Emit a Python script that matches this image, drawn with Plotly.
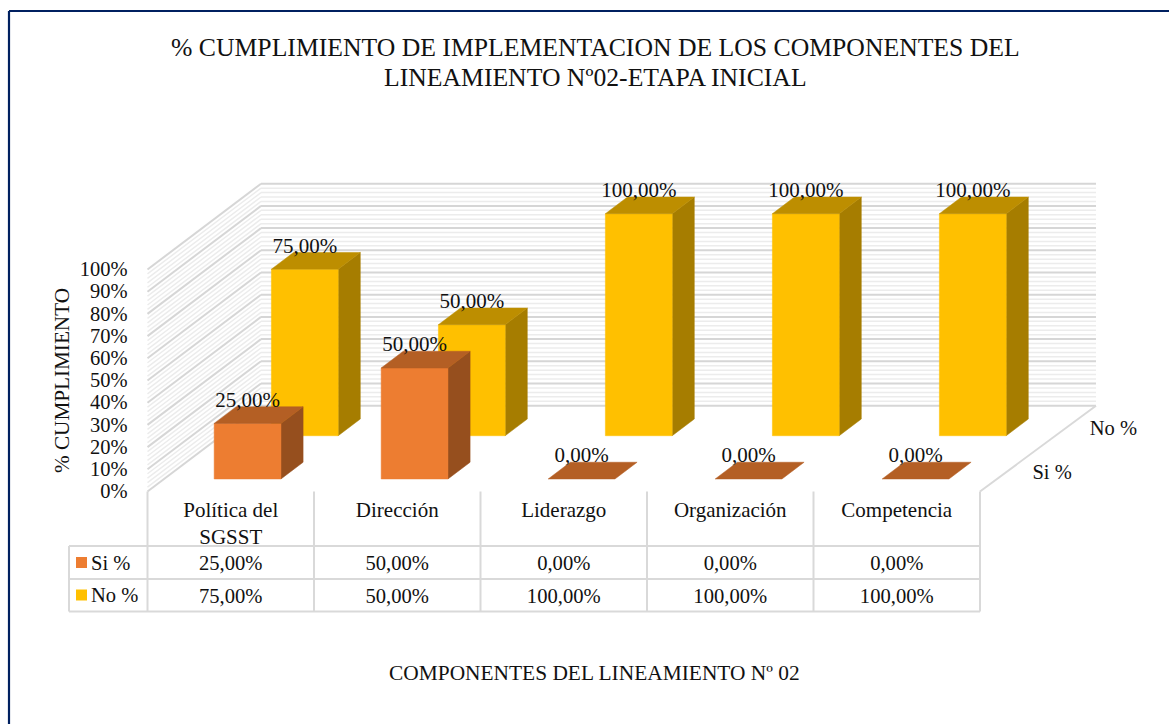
import plotly.graph_objects as go

# ---------- data ----------
categories = ["Política del<br>SGSST", "Dirección", "Liderazgo", "Organización", "Competencia"]
si_values = [25, 50, 0, 0, 0]
no_values = [75, 50, 100, 100, 100]
series_names = ["Si %", "No %"]
y_ticks = [0, 10, 20, 30, 40, 50, 60, 70, 80, 90, 100]
minor_ticks = [v for v in range(0, 101, 2) if v % 10]

chart_title = ["% CUMPLIMIENTO DE IMPLEMENTACION DE LOS COMPONENTES DEL",
               "LINEAMIENTO Nº02-ETAPA INICIAL"]
x_title = "COMPONENTES DEL LINEAMIENTO Nº 02"
y_title = "% CUMPLIMIENTO"

# ---------- oblique projection ----------
X0, Y0 = 147.5, 491.5       # front-left floor corner
CAT_W = 166.5               # category width at the front plane
CAT_W_DEEP = 167.0          # slight widening further back
PX_PER_PCT = 2.22
DEPTH_DX, DEPTH_DY = 113.5, -85.8
BAR_W = 0.40                # share of category
SERIES_DEPTH = {"Si %": (0.146, 0.341), "No %": (0.65, 0.845)}
n = len(categories)


def P(cat, depth, val):
    w = CAT_W if depth == 0 else CAT_W_DEEP
    return (X0 + cat * w + depth * DEPTH_DX,
            Y0 + depth * DEPTH_DY - val * PX_PER_PCT)


FONT = "Liberation Serif"
TXT = "#111111"
fig = go.Figure()


def poly(points, color):
    fig.add_trace(go.Scatter(x=[p[0] for p in points] + [points[0][0]],
                             y=[p[1] for p in points] + [points[0][1]],
                             mode="lines", fill="toself", fillcolor=color,
                             line=dict(color=color, width=0.5),
                             hoverinfo="skip", showlegend=False))


def lines(segments, color, width):
    xs, ys = [], []
    for a, b in segments:
        xs += [a[0], b[0], None]
        ys += [a[1], b[1], None]
    fig.add_trace(go.Scatter(x=xs, y=ys, mode="lines", line=dict(color=color, width=width),
                             hoverinfo="skip", showlegend=False))


def labels(xs, ys, texts, size=21, pos="middle center"):
    fig.add_trace(go.Scatter(x=xs, y=ys, text=texts, mode="text", textposition=pos,
                             textfont=dict(family=FONT, size=size, color=TXT),
                             hoverinfo="skip", showlegend=False))


# walls: minor then major grid
def grid(vals):
    segs = []
    for v in vals:
        segs.append((P(0, 0, v), P(0, 1, v)))
        segs.append((P(0, 1, v), P(n, 1, v)))
    return segs


lines(grid(minor_ticks), "#ececec", 1.5)
lines(grid(y_ticks), "#d6d6d6", 2)
lines([(P(n, 0, 0), P(n, 1, 0))], "#d9d9d9", 2)

# bars
COLORS = {"Si %": ("#ED7D31", "#B45F24", "#964F1E"),
          "No %": ("#FFC000", "#BD8E00", "#A67D00")}


def bars(name, values):
    d0, d1 = SERIES_DEPTH[name]
    front, top, side = COLORS[name]
    for i, v in enumerate(values):
        a, b = i + 0.5 - BAR_W / 2, i + 0.5 + BAR_W / 2
        if v > 0:
            poly([P(b, d0, 0), P(b, d1, 0), P(b, d1, v), P(b, d0, v)], side)
            poly([P(a, d0, 0), P(b, d0, 0), P(b, d0, v), P(a, d0, v)], front)
        poly([P(a, d0, v), P(b, d0, v), P(b, d1, v), P(a, d1, v)], top)


bars("No %", no_values)
bars("Si %", si_values)


def bar_labels(name, values):
    d0, d1 = SERIES_DEPTH[name]
    xs, ys, ts = [], [], []
    for i, v in enumerate(values):
        xs.append(P(i + 0.5, d0, v)[0])
        ys.append(P(i + 0.5, d1, v)[1] - 5)
        ts.append(f"{v:.2f}%".replace(".", ","))
    labels(xs, ys, ts)


bar_labels("No %", no_values)
bar_labels("Si %", si_values)

# value axis labels
labels([127.5] * len(y_ticks), [P(0, 0, v)[1] + 1.5 for v in y_ticks],
       [f"{v}%" for v in y_ticks], 20.5, "middle left")

# series (depth) labels
for name, off in zip(series_names, (44, 48)):
    d0, d1 = SERIES_DEPTH[name]
    p = P(n, (d0 + d1) / 2, 0)
    labels([p[0] + off - 2], [p[1] + 3], [name], 20.5)

# data table
TABLE_Y = [546, 579, 611.5]
TABLE_LEFT = 69
segs = [((TABLE_LEFT, y), (P(n, 0, 0)[0], y)) for y in TABLE_Y]
segs += [((P(i, 0, 0)[0], Y0), (P(i, 0, 0)[0], TABLE_Y[-1])) for i in range(n + 1)]
segs += [((TABLE_LEFT, TABLE_Y[0]), (TABLE_LEFT, TABLE_Y[-1]))]
lines(segs, "#d9d9d9", 2)

cx = [P(i + 0.5, 0, 0)[0] for i in range(n)]
fig.add_trace(go.Scatter(x=cx, y=[512 if "<br>" not in c else 525 for c in categories], text=categories,
                         mode="text", textposition="middle center",
                         textfont=dict(family=FONT, size=21, color=TXT),
                         hoverinfo="skip", showlegend=False))
labels(cx, [565] * n, [f"{v:.2f}%".replace(".", ",") for v in si_values], 20.6)
labels(cx, [598] * n, [f"{v:.2f}%".replace(".", ",") for v in no_values], 20.6)

# legend keys in the table
for name, y in zip(series_names, (562.5, 595)):
    fig.add_trace(go.Scatter(x=[81.5], y=[y], mode="markers", name=name,
                             marker=dict(symbol="square", size=11, color=COLORS[name][0]),
                             hoverinfo="skip", showlegend=False))
    labels([91], [y + 2], [name], 20.5, "middle right")

# frame
lines([((9, 724), (9, 11)), ((9, 11), (1169, 11))], "#002060", 2.2)

ann = [dict(x=595, y=47, text=chart_title[0], size=25.7),
       dict(x=595, y=77, text=chart_title[1], size=25.7),
       dict(x=594, y=673, text=x_title, size=21.4)]
annotations = [dict(x=a["x"], y=a["y"], xref="x", yref="y", text=a["text"], showarrow=False,
                    xanchor="center", yanchor="middle",
                    font=dict(family=FONT, size=a["size"], color=TXT)) for a in ann]
annotations.append(dict(x=62, y=381, xref="x", yref="y", text=y_title, textangle=-90, showarrow=False,
                        xanchor="center", yanchor="middle",
                        font=dict(family=FONT, size=21.2, color=TXT)))

fig.update_layout(width=1169, height=724, margin=dict(l=0, r=0, t=0, b=0),
                  paper_bgcolor="white", plot_bgcolor="white", showlegend=False,
                  xaxis=dict(range=[0, 1169], visible=False, fixedrange=True),
                  yaxis=dict(range=[724, 0], visible=False, fixedrange=True),
                  annotations=annotations)

fig.write_html("out.html", config=dict(displayModeBar=False),
               post_script="document.body.style.margin='0';document.body.style.overflow='hidden';")
